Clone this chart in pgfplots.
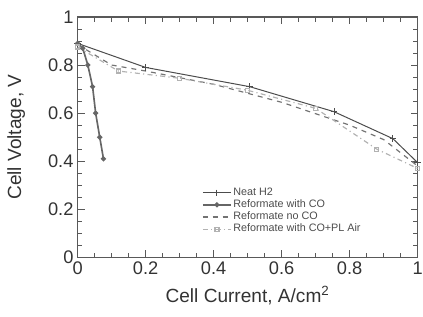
\documentclass[border=0pt]{standalone}
\usepackage{pgfplots}
\pgfplotsset{compat=1.18}
\usepackage{fontspec}
\setmainfont{Liberation Sans}
\begin{document}
\begin{tikzpicture}
\begin{axis}[
  scale only axis,
  width=205pt, height=145pt,
  xmin=0, xmax=1, ymin=0, ymax=1,
  xtick={0,0.2,0.4,0.6,0.8,1},
  ytick={0,0.2,0.4,0.6,0.8,1},
  xticklabels={0,0.2,0.4,0.6,0.8,1},
  yticklabels={0,0.2,0.4,0.6,0.8,1},
  minor x tick num=3, minor y tick num=3,
  tick align=inside,
  axis line style={gray!70!black, line width=0.8pt},
  every tick/.style={gray!70!black},
  tick label style={font=\fontsize{11}{12}\selectfont, text=black!80},
  yticklabel style={xshift=1pt},
  xticklabel style={yshift=1pt},
  xlabel={Cell Current, A/cm\textsuperscript{2}},
  ylabel={Cell Voltage, V},
  label style={font=\fontsize{11.5}{13}\selectfont, text=black!80},
  xlabel style={yshift=0pt},
  ylabel style={yshift=7pt},
  legend style={draw=none, fill=none, at={(0.35,0.31)}, anchor=north west,
    font=\fontsize{6.5}{6.5}\selectfont, text=black!70, row sep=-0.5pt,
    nodes={inner sep=0.8pt}},
  legend cell align=left,
]
\addplot[color=black!70, line width=0.6pt, mark=+, mark size=2pt] coordinates {
 (0,0.89) (0.2,0.79) (0.506,0.71) (0.754,0.606) (0.927,0.494) (1,0.394)};
\addlegendentry{Neat H2}
\addplot[color=black!60, line width=1pt, mark=*, mark size=1pt] coordinates {
 (0,0.89) (0.015,0.87) (0.03,0.80) (0.044,0.71) (0.053,0.60) (0.065,0.50) (0.076,0.41)};
\addlegendentry{Reformate with CO}
\addplot[color=black!55, line width=0.7pt, dashed] coordinates {
 (0,0.885) (0.1,0.80) (0.2,0.775) (0.4,0.72) (0.6,0.645) (0.8,0.55) (0.9,0.49) (1,0.38)};
\addlegendentry{Reformate no CO}
\addplot[color=black!30, line width=0.7pt, dash dot, mark=square, mark size=1.2pt, mark options={solid}] coordinates {
 (0,0.875) (0.12,0.775) (0.3,0.745) (0.5,0.695) (0.7,0.62) (0.88,0.45) (1,0.37)};
\addlegendentry{Reformate with CO+PL Air}
\end{axis}
\pgfresetboundingbox
\path[use as bounding box] ([xshift=-46.8pt,yshift=-35.4pt]current axis.south west) rectangle ([xshift=3.2pt,yshift=10.2pt]current axis.north east);
\end{tikzpicture}
\end{document}
